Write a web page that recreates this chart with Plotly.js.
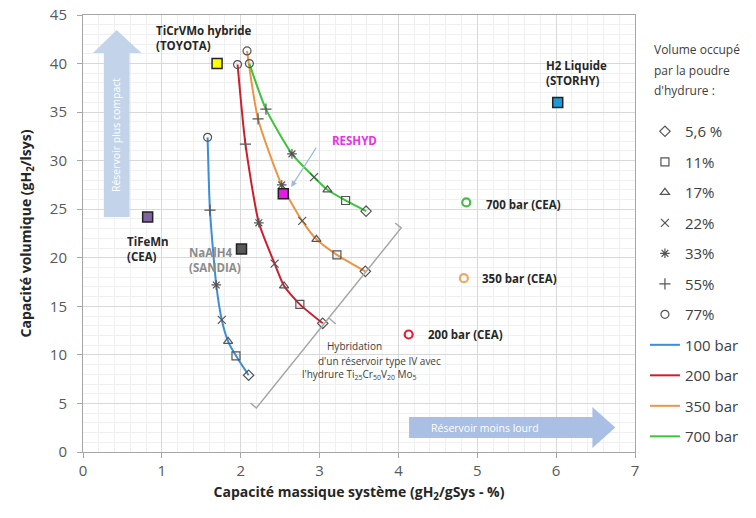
<!DOCTYPE html>
<html>
<head>
<meta charset="utf-8">
<script src="https://cdn.plot.ly/plotly-3.0.1.min.js"></script>
<style>html,body{margin:0;padding:0;background:#fff;}#chart{width:756px;height:518px;}</style>
</head>
<body>
<div id="chart"></div>
<script>
// ---- Data ----
// Volume fraction of hydride powder, in the order points appear along each curve (top to bottom)
const fractions = ["77%", "55%", "33%", "22%", "17%", "11%", "5,6 %"];
const pressures = ["100 bar", "200 bar", "350 bar", "700 bar"];

const x100 = [1.58, 1.61, 1.69, 1.76, 1.84, 1.94, 2.10];
const y100 = [32.4, 24.9, 17.2, 13.6, 11.4, 9.9, 7.9];
const x200 = [1.96, 2.06, 2.23, 2.43, 2.55, 2.75, 3.04];
const y200 = [39.9, 31.7, 23.6, 19.4, 17.1, 15.2, 13.25];
const x350 = [2.08, 2.22, 2.52, 2.78, 2.96, 3.22, 3.58];
const y350 = [41.3, 34.3, 27.5, 23.8, 21.9, 20.3, 18.6];
const x700 = [2.11, 2.32, 2.65, 2.93, 3.10, 3.33, 3.59];
const y700 = [40.0, 35.3, 30.7, 28.3, 27.0, 25.9, 24.8];

// Reference systems
const refNames = ["TiCrVMo hybride<br>(TOYOTA)", "TiFeMn<br>(CEA)", "NaAlH4<br>(SANDIA)", "RESHYD", "H2 Liquide<br>(STORHY)"];
const refX = [1.70, 0.82, 2.01, 2.54, 6.02];
const refY = [40.0, 24.2, 20.9, 26.6, 36.0];

const ceaNames = ["700 bar (CEA)", "350 bar (CEA)", "200 bar (CEA)"];
const ceaX = [4.86, 4.83, 4.13];
const ceaY = [25.7, 17.9, 12.1];

const xTicks = [0, 1, 2, 3, 4, 5, 6, 7];
const yTicks = [0, 5, 10, 15, 20, 25, 30, 35, 40, 45];
const legendTitle = ["Volume occupé", "par la poudre", "d'hydrure :"];

// ---- Styles ----
const curveX = [x100, x200, x350, x700];
const curveY = [y100, y200, y350, y700];
const curveColors = ["#3b8fd4", "#cc1f2d", "#ec9645", "#3cc43c"];
const fracSymbols = {"77%": "circle-open", "55%": "cross-thin-open", "33%": "asterisk-open",
  "22%": "x-thin-open", "17%": "triangle-up-open", "11%": "square-open", "5,6 %": "diamond-open"};
const legendOrder = ["5,6 %", "11%", "17%", "22%", "33%", "55%", "77%"];
const refFill = ["#ffff00", "#8064a2", "#595959", "#e619e6", "#1e9bd7"];
const ceaColors = ["#40c040", "#f0a860", "#e0203a"];
const FONT = "Open Sans, Liberation Sans, sans-serif";

const traces = [];
// Pressure curves (lines)
pressures.forEach((p, i) => {
  traces.push({
    x: curveX[i], y: curveY[i], name: p, type: "scatter", mode: "lines",
    line: {color: curveColors[i], width: 2, shape: "spline", smoothing: 0.6},
    legendgroup: p, legendrank: 100 + i, hoverinfo: "skip"
  });
});
// Markers grouped by volume fraction
legendOrder.forEach((f, k) => {
  const idx = fractions.indexOf(f);
  traces.push({
    x: curveX.map(a => a[idx]), y: curveY.map(a => a[idx]), name: f,
    type: "scatter", mode: "markers",
    marker: {symbol: fracSymbols[f], size: 8, color: "#555555", line: {color: "#555555", width: 1.2}},
    legendgroup: f, legendrank: 1 + k
  });
});
// Reference systems (squares)
refNames.forEach((n, i) => {
  traces.push({
    x: [refX[i]], y: [refY[i]], name: n, type: "scatter", mode: "markers", showlegend: false,
    marker: {symbol: "square", size: 10, color: refFill[i], line: {color: "#222", width: 1.5}}
  });
});
// CEA tanks (open circles)
ceaNames.forEach((n, i) => {
  traces.push({
    x: [ceaX[i]], y: [ceaY[i]], name: n, type: "scatter", mode: "markers", showlegend: false,
    marker: {symbol: "circle-open", size: 8, color: ceaColors[i], line: {color: ceaColors[i], width: 2.2}}
  });
});

const lbl = (x, y, text, opts) => Object.assign({
  x: x, y: y, xref: "x", yref: "y", text: text, showarrow: false,
  xanchor: "left", yanchor: "middle", align: "left",
  font: {family: FONT, size: 11.5, color: "#262626"}
}, opts || {});

const annotations = [
  lbl(0.905, 42.6, "<b>" + refNames[0] + "</b>"),
  lbl(0.53, 20.9, "<b>" + refNames[1] + "</b>"),
  lbl(1.32, 19.75, "<b>" + refNames[2] + "</b>", {font: {family: FONT, size: 11.5, color: "#8c8c8c"}}),
  lbl(5.84, 39.0, "<b>" + refNames[4] + "</b>"),
  lbl(3.44, 32.1, "<b>" + refNames[3] + "</b>", {xanchor: "center", font: {family: FONT, size: 11.5, color: "#e633e6"}}),
  lbl(5.08, 25.5, "<b>" + ceaNames[0] + "</b>"),
  lbl(5.03, 17.9, "<b>" + ceaNames[1] + "</b>"),
  lbl(4.35, 12.15, "<b>" + ceaNames[2] + "</b>"),
  // RESHYD arrow
  {x: 2.64, y: 27.3, ax: 2.97, ay: 31.5, xref: "x", yref: "y", axref: "x", ayref: "y", text: "",
   showarrow: true, arrowhead: 2, arrowsize: 1, arrowwidth: 1.2, arrowcolor: "#9dbbd9"},
  // bracket text
  lbl(3.067, 10.92, "Hybridation", {font: {family: FONT, size: 10, color: "#404040"}}),
  lbl(2.953, 9.37, "d'un réservoir type IV avec", {font: {family: FONT, size: 10, color: "#404040"}}),
  lbl(2.752, 7.93, "l'hydrure Ti<sub>25</sub>Cr<sub>50</sub>V<sub>20</sub> Mo<sub>5</sub>", {font: {family: FONT, size: 10, color: "#404040"}}),
  // arrow texts
  lbl(0.427, 32.6, "Réservoir plus compact", {xanchor: "center", textangle: -90, font: {family: FONT, size: 10.5, color: "#ffffff"}}),
  lbl(5.1, 2.5, "Réservoir moins lourd", {xanchor: "center", font: {family: FONT, size: 10.5, color: "#ffffff"}})
];
// legend title lines
const titleY = [0.922, 0.874, 0.828];
legendTitle.forEach((t, i) => {
  annotations.push({x: 1.0305, y: titleY[i], xref: "paper", yref: "paper", text: t, showarrow: false,
    xanchor: "left", yanchor: "middle", font: {family: FONT, size: 12, color: "#404040"}});
});

const shapes = [
  // vertical arrow
  {type: "path", xref: "x", yref: "y", layer: "above",
   path: "M 0.264 24.2 L 0.591 24.2 L 0.591 41.09 L 0.741 41.09 L 0.427 43.46 L 0.126 41.09 L 0.264 41.09 Z",
   fillcolor: "#c3d4ea", line: {width: 0}},
  // horizontal arrow
  {type: "path", xref: "x", yref: "y", layer: "above",
   path: "M 4.135 3.6 L 6.46 3.6 L 6.46 4.63 L 6.75 2.52 L 6.46 0.41 L 6.46 1.44 L 4.135 1.44 Z",
   fillcolor: "#a9bfe4", line: {width: 0}},
  // bracket
  {type: "path", xref: "x", yref: "y",
   path: "M 3.959 23.58 L 4.034 23.07 L 2.199 4.53 L 2.124 5.05",
   line: {color: "#a6a6a6", width: 1.5}},
  {type: "line", xref: "x", yref: "y", x0: 3.117, y0: 13.8, x1: 3.205, y1: 13.18,
   line: {color: "#a6a6a6", width: 1.5}}
];

const layout = {
  width: 756, height: 518,
  margin: {l: 83, r: 116, t: 15, b: 66},
  paper_bgcolor: "#ffffff", plot_bgcolor: "#ffffff",
  font: {family: FONT, color: "#404040"},
  showlegend: true,
  legend: {
    x: 1.018, y: 0.771, xanchor: "left", yanchor: "top",
    traceorder: "grouped", tracegroupgap: 8, itemwidth: 30,
    font: {family: FONT, size: 15, color: "#404040"},
    bgcolor: "rgba(0,0,0,0)"
  },
  xaxis: {
    range: [0, 7], tickvals: xTicks, ticktext: xTicks.map(String),
    showgrid: true, gridcolor: "#d9d9d9", gridwidth: 1,
    minor: {dtick: 0.2, showgrid: true, gridcolor: "#f0f0f0", gridwidth: 1},
    showline: true, linecolor: "#a6a6a6", linewidth: 1, mirror: true,
    ticks: "outside", ticklen: 5, tickcolor: "#a6a6a6",
    zeroline: false,
    tickfont: {family: FONT, size: 15, color: "#595959"},
    title: {text: "<b>Capacité massique système (gH<sub>2</sub>/gSys - %)</b>", standoff: 8,
            font: {family: FONT, size: 14, color: "#262626"}}
  },
  yaxis: {
    range: [0, 45], tickvals: yTicks, ticktext: yTicks.map(String),
    showgrid: true, gridcolor: "#d9d9d9", gridwidth: 1,
    minor: {dtick: 1, showgrid: true, gridcolor: "#f0f0f0", gridwidth: 1},
    showline: true, linecolor: "#a6a6a6", linewidth: 1, mirror: true,
    ticks: "outside", ticklen: 5, tickcolor: "#a6a6a6", ticklabelstandoff: 7,
    zeroline: false,
    tickfont: {family: FONT, size: 15, color: "#595959"},
    title: {text: "<b>Capacité volumique (gH<sub>2</sub>/lsys)</b>", standoff: 14,
            font: {family: FONT, size: 14, color: "#262626"}}
  },
  annotations: annotations,
  shapes: shapes
};

Plotly.newPlot("chart", traces, layout, {displayModeBar: false, staticPlot: true});
</script>
</body>
</html>
